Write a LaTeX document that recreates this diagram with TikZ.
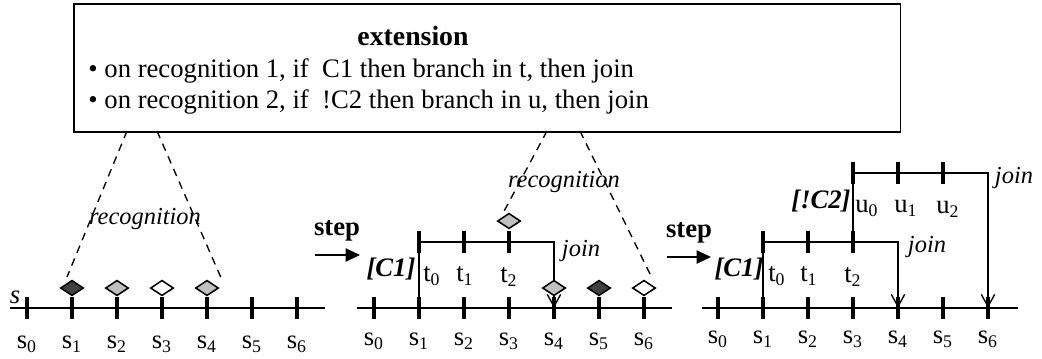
\documentclass[tikz,border=0pt]{standalone}
\usepackage{fontspec}
\setmainfont{Liberation Serif}
\usepackage{tikz}
\usetikzlibrary{arrows.meta,positioning,shapes.geometric}
\definecolor{darkmark}{RGB}{64,64,64}
\definecolor{lightmark}{RGB}{192,192,192}
\tikzset{tickmark/.style={fill=black,inner sep=0pt,minimum width=1.8pt,minimum height=9.9pt}}
\tikzset{recmark/.style={draw=black,shape=diamond,inner sep=0pt,minimum width=10.4pt,minimum height=7pt,line width=0.7pt}}
\tikzset{slabel/.style={anchor=base,inner sep=0pt}}

\begin{document}
\begin{tikzpicture}[x=0.45pt, y=-0.45pt, font=\fontsize{12}{14}\selectfont]
        \tikzstyle{track}=[line width=0.9pt]
        \tikzstyle{link}=[line width=0.5pt]
        \tikzstyle{joinline}=[line width=0.9pt,-{Straight Barb[length=5.5pt,width=6pt,line width=0.6pt]}]
        \tikzstyle{steparrow}=[line width=0.6pt,-{Triangle[length=6.5pt,width=6pt]}]
        \tikzstyle{recline}=[line width=0.6pt,dash pattern=on 3.5pt off 2.7pt]
        \tikzstyle{italbl}=[anchor=base,inner sep=0pt,font=\itshape\fontsize{11}{13}\selectfont]
        \tikzstyle{condlbl}=[anchor=base,inner sep=0pt,font=\bfseries\itshape\fontsize{12}{14}\selectfont]
        \tikzstyle{boxtext}=[anchor=base west,inner sep=0pt,font=\fontsize{12}{14}\selectfont]
        \useasboundingbox (0,0) rectangle (1042,358);
        % extension box
        \node[draw,line width=0.8pt,anchor=north west,minimum width=372pt,minimum height=57.6pt,inner sep=0pt] (ext) at (73,3) {};
        \node[anchor=base,inner sep=0pt,font=\bfseries\fontsize{12.5}{14}\selectfont] (title) at (413,45) {extension};
        \node[boxtext] (rule1) at (88,77) {\textbullet\ on recognition 1, if\ \ C1 then branch in t, then join};
        \node[boxtext] (rule2) at (88,108) {\textbullet\ on recognition 2, if\ \ !C2 then branch in u, then join};
        % panel A
        \coordinate (Al) at (10,308);
        \coordinate (Ar) at (325,308);
        \draw[track] (Al) -- (Ar);
        \foreach \i in {0,...,6} {
            \node[tickmark] (A\i) at ({27+45*\i},308) {};
            \node[slabel] at ({27+45*\i},348) {s\textsubscript{\i}};
        }
        \node[italbl,font=\itshape\fontsize{12}{14}\selectfont] (Aname) at (15,303) {s};
        \coordinate (Aa) at (127,131);
        \coordinate (Ab) at (67,277);
        \coordinate (Ac) at (157,131);
        \coordinate (Ad) at (222,280);
        \draw[recline] (Aa) -- (Ab);
        \draw[recline] (Ac) -- (Ad);
        \node[italbl] (Arec) at (145,224) {recognition};
        \node[recmark,fill=darkmark] (Am1) at (72,288) {};
        \node[recmark,fill=lightmark] (Am2) at (117,288) {};
        \node[recmark,fill=white] (Am3) at (162,288) {};
        \node[recmark,fill=lightmark] (Am4) at (207,288) {};
        % step to panel B
        \node[anchor=base,inner sep=0pt,font=\bfseries\fontsize{12}{14}\selectfont] (stepB) at (337,235) {step};
        \coordinate (Bin) at (315,255);
        \coordinate (Bout) at (360,255);
        \draw[steparrow] (Bin) -- (Bout);
        % panel B
        \coordinate (Bl) at (357,308);
        \coordinate (Br) at (672,308);
        \draw[track] (Bl) -- (Br);
        \foreach \i in {0,...,6} {
            \node[tickmark] (B\i) at ({374+45*\i},308) {};
            \node[slabel] at ({374+45*\i},345) {s\textsubscript{\i}};
        }
        \coordinate (Bt0) at (419,242);
        \draw[link] (B1.center) -- (Bt0);
        \draw[joinline] (Bt0) -| (B4.center);
        \foreach \i in {0,1,2} {
            \node[tickmark] (Bt\i) at ({419+45*\i},242) {};
        }
        \node[slabel] at (432,281) {t\textsubscript{0}};
        \node[slabel] at (465,281) {t\textsubscript{1}};
        \node[slabel] at (509,282) {t\textsubscript{2}};
        \node[condlbl] (Bcond) at (391,276) {[C1]};
        \node[italbl] (Bjoin) at (581,256) {join};
        \coordinate (Ba) at (547,131);
        \coordinate (Bb) at (502,215);
        \coordinate (Bc) at (580,131);
        \coordinate (Bd) at (652,278);
        \draw[recline] (Ba) -- (Bb);
        \draw[recline] (Bc) -- (Bd);
        \node[italbl] (Brec) at (564,187) {recognition};
        \node[recmark,fill=lightmark] (Bm1) at (509,221) {};
        \node[recmark,fill=lightmark] (Bm2) at (554,288) {};
        \node[recmark,fill=darkmark] (Bm3) at (599,288) {};
        \node[recmark,fill=white] (Bm4) at (644,288) {};
        % step to panel C
        \node[anchor=base,inner sep=0pt,font=\bfseries\fontsize{12}{14}\selectfont] (stepC) at (689,237) {step};
        \coordinate (Cin) at (667,257);
        \coordinate (Cout) at (711,257);
        \draw[steparrow] (Cin) -- (Cout);
        % panel C
        \coordinate (Cl) at (702,308);
        \coordinate (Cr) at (1018,308);
        \draw[track] (Cl) -- (Cr);
        \foreach \i in {0,...,6} {
            \node[tickmark] (C\i) at ({718+45*\i},308) {};
            \node[slabel] at ({718+45*\i},343) {s\textsubscript{\i}};
        }
        \coordinate (Ct0) at (763,242);
        \coordinate (Cu0) at (853,173);
        \draw[link] (C1.center) -- (Ct0);
        \draw[link] (Ct0 -| Cu0) -- (Cu0);
        \draw[joinline] (Ct0) -| (C4.center);
        \draw[joinline] (Cu0) -| (C6.center);
        \foreach \i in {0,1,2} {
            \node[tickmark] (Ct\i) at ({763+45*\i},242) {};
            \node[tickmark] (Cu\i) at ({853+45*\i},173) {};
        }
        \node[slabel] at (777,281) {t\textsubscript{0}};
        \node[slabel] at (809,281) {t\textsubscript{1}};
        \node[slabel] at (853,282) {t\textsubscript{2}};
        \node[slabel] at (867,212) {u\textsubscript{0}};
        \node[slabel] at (906,212) {u\textsubscript{1}};
        \node[slabel] at (948,213) {u\textsubscript{2}};
        \node[condlbl] (Ccond) at (739,276) {[C1]};
        \node[condlbl] (Ccond2) at (821,208) {[!C2]};
        \node[italbl] (Cjoin1) at (927,252) {join};
        \node[italbl] (Cjoin2) at (1014,183) {join};
\end{tikzpicture}
\end{document}
